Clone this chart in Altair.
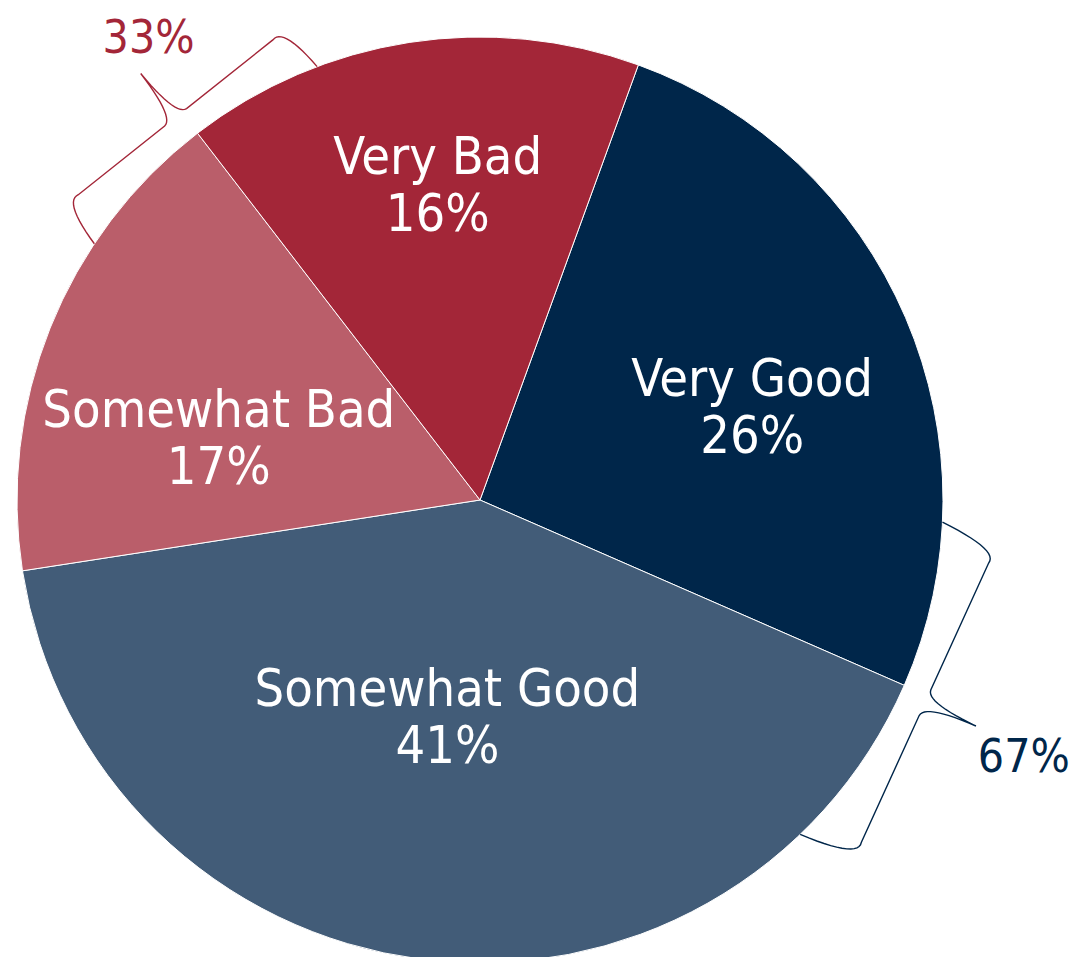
import math
import altair as alt
import numpy as np
import pandas as pd

# ---------------- data ----------------
categories = ["Very Good", "Somewhat Good", "Somewhat Bad", "Very Bad"]
values = [26, 41, 17, 16]
pct_labels = ["26%", "41%", "17%", "16%"]
group_names = ["Good", "Bad"]
group_labels = ["67%", "33%"]

# ---------------- style / layout ----------------
slice_colors = ["#00264A", "#425C78", "#BA5E6A", "#A32638"]
group_colors = ["#00264A", "#A32638"]
FONT = "DejaVu Sans Condensed, DejaVu Sans, sans-serif"
W, H = 1066, 949          # chart size in px
CX, CY = 472, 492         # pie centre in px (chart coords)
R = 463                   # pie radius in px
START_DEG = 20            # first slice starts 20 deg clockwise from 12 o'clock
FS = 52                   # slice label font size
GFS = 46                  # group label font size
# label nudges (px, +x right, +y down) from each slice's centroid, like hand-placed labels
LABEL_NUDGE = {
    "Very Good": (19, 15),
    "Somewhat Good": (-3, -12),
    "Somewhat Bad": (12, 46),
    "Very Bad": (3, -24),
}
# brace annotations: centre angle, angular span, label angle offset, label radius (px)
BRACES = {
    "Good": dict(center=114.5, span=43.5, dlab=0.9, rlab=602),
    "Bad": dict(center=321.5, span=35.8, dlab=2.8, rlab=568),
}

# ---------------- derived tables ----------------
vals = np.array(values, dtype=float)
tot = vals.sum()
cum_start = np.cumsum(vals) - vals
mid_deg = START_DEG + (cum_start + vals / 2) / tot * 360.0
half = np.radians(vals / tot * 180.0)
lab_r = 2 * np.sin(half) / (3 * half)      # sector centroid radius (units of R)

pie_df = pd.DataFrame({
    "category": categories,
    "value": values,
    "order": list(range(len(categories))),
    "cx": 0.0,
    "cy": 0.0,
})

nx = np.array([LABEL_NUDGE[c][0] for c in categories]) / R
ny = np.array([LABEL_NUDGE[c][1] for c in categories]) / R
lab_df = pd.DataFrame({
    "category": categories,
    "pct": pct_labels,
    "x": lab_r * np.sin(np.radians(mid_deg)) + nx,
    "y": lab_r * np.cos(np.radians(mid_deg)) - ny,
})


def bez(p0, p1, p2, n=14):
    t = np.linspace(0, 1, n)[:, None]
    p0, p1, p2 = map(np.asarray, (p0, p1, p2))
    return (1 - t) ** 2 * p0 + 2 * (1 - t) * t * p1 + t ** 2 * p2


def brace_points(center, span):
    a1, a2 = math.radians(center - span / 2), math.radians(center + span / 2)
    A = np.array([math.sin(a1), math.cos(a1)]) * R
    B = np.array([math.sin(a2), math.cos(a2)]) * R
    L = np.linalg.norm(B - A)
    u = (B - A) / L
    mid = (A + B) / 2
    n = mid / np.linalg.norm(mid)
    sag = R - np.linalg.norm(mid)
    hc, ht = sag + 26, sag + 82
    m = L / 2
    local = np.vstack([
        bez((0, 0), (2, hc + 4), (18, hc)),
        bez((m - 14, hc), (m - 1, hc + 1), (m, ht)),
        bez((m, ht), (m + 1, hc + 1), (m + 14, hc)),
        bez((L - 18, hc), (L - 2, hc + 4), (L, 0)),
    ])
    pts = A + local[:, :1] * u + local[:, 1:] * n
    return pts / R


brace_rows = []
glab_rows = []
for g, lab in zip(group_names, group_labels):
    b = BRACES[g]
    pts = brace_points(b["center"], b["span"])
    for i, (x, y) in enumerate(pts):
        brace_rows.append({"group": g, "i": i, "x": x, "y": y})
    a = math.radians(b["center"] + b["dlab"])
    glab_rows.append({"group": g, "label": lab,
                      "x": b["rlab"] / R * math.sin(a),
                      "y": b["rlab"] / R * math.cos(a)})
brace_df = pd.DataFrame(brace_rows)
glab_df = pd.DataFrame(glab_rows)

# ---------------- scales ----------------
xs = alt.Scale(domain=[-CX / R, (W - CX) / R], nice=False, zero=False)
ys = alt.Scale(domain=[(CY - H) / R, CY / R], nice=False, zero=False)
start = math.radians(START_DEG)

pie = alt.Chart(pie_df).mark_arc(outerRadius=R, stroke="white", strokeWidth=1).encode(
    x=alt.X("cx:Q", scale=xs, axis=None),
    y=alt.Y("cy:Q", scale=ys, axis=None),
    theta=alt.Theta("value:Q", stack=True,
                    scale=alt.Scale(range=[start, start + 2 * math.pi])),
    color=alt.Color("category:N", scale=alt.Scale(domain=categories, range=slice_colors),
                    legend=None),
    order=alt.Order("order:Q"),
)

name_txt = alt.Chart(lab_df).mark_text(
    font=FONT, fontSize=FS, color="white", align="center", baseline="alphabetic", dy=-10
).encode(x=alt.X("x:Q", scale=xs, axis=None), y=alt.Y("y:Q", scale=ys, axis=None),
         text="category:N")

pct_txt = alt.Chart(lab_df).mark_text(
    font=FONT, fontSize=FS, color="white", align="center", baseline="alphabetic", dy=47
).encode(x=alt.X("x:Q", scale=xs, axis=None), y=alt.Y("y:Q", scale=ys, axis=None),
         text="pct:N")

braces = alt.Chart(brace_df).mark_line(strokeWidth=1.4).encode(
    x=alt.X("x:Q", scale=xs, axis=None),
    y=alt.Y("y:Q", scale=ys, axis=None),
    order="i:Q",
    color=alt.Color("group:N", scale=alt.Scale(domain=group_names, range=group_colors),
                    legend=None),
)

glab = alt.Chart(glab_df).mark_text(
    font=FONT, fontSize=GFS, align="center", baseline="middle"
).encode(
    x=alt.X("x:Q", scale=xs, axis=None),
    y=alt.Y("y:Q", scale=ys, axis=None),
    text="label:N",
    color=alt.Color("group:N", scale=alt.Scale(domain=group_names, range=group_colors),
                    legend=None),
)

chart = alt.layer(pie, braces, name_txt, pct_txt, glab).resolve_scale(
    color="independent"
).properties(
    width=W, height=H, padding=0, background="white",
    autosize=alt.AutoSizeParams(type="none"),
).configure_view(stroke=None)

chart.save("out.html", embed_options={"renderer": "svg", "actions": False})
